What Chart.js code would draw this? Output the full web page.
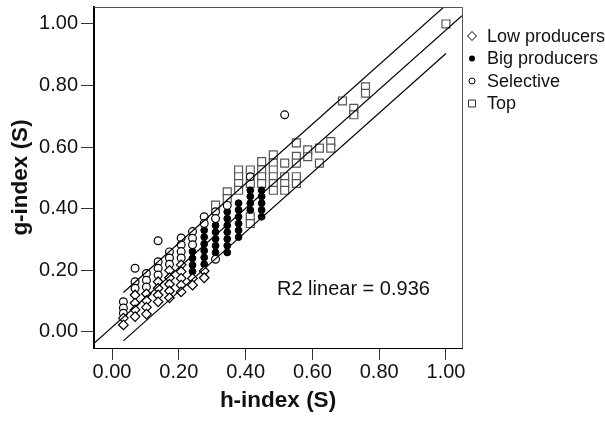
<!DOCTYPE html>
<html>
<head>
<meta charset="utf-8">
<script src="https://cdn.jsdelivr.net/npm/chart.js@4.4.0/dist/chart.umd.min.js"></script>
<style>
html, body { margin: 0; padding: 0; background: #fff; }
</style>
</head>
<body>
<canvas id="myChart" width="605" height="423"></canvas>
<script>
// tick values on both axes
var xTicks = [0, 0.2, 0.4, 0.6, 0.8, 1.0];
var yTicks = [0, 0.2, 0.4, 0.6, 0.8, 1.0];

// [h-index, g-index] pairs
var lowProducers = [
  [0.034, 0.045], [0.034, 0.023],
  [0.069, 0.120], [0.069, 0.094], [0.069, 0.072], [0.069, 0.050],
  [0.103, 0.124], [0.103, 0.102], [0.103, 0.080], [0.103, 0.058],
  [0.138, 0.163], [0.138, 0.142], [0.138, 0.120], [0.138, 0.098],
  [0.172, 0.200], [0.172, 0.176], [0.172, 0.155], [0.172, 0.133], [0.172, 0.111],
  [0.207, 0.218], [0.207, 0.196], [0.207, 0.174], [0.207, 0.152], [0.207, 0.130],
  [0.241, 0.174], [0.241, 0.152],
  [0.276, 0.198], [0.276, 0.176]
];
var bigProducers = [
  [0.241, 0.261], [0.241, 0.239], [0.241, 0.217], [0.241, 0.196],
  [0.276, 0.330], [0.276, 0.308], [0.276, 0.286], [0.276, 0.264], [0.276, 0.242], [0.276, 0.220],
  [0.310, 0.346], [0.310, 0.324], [0.310, 0.302], [0.310, 0.280], [0.310, 0.258],
  [0.345, 0.390], [0.345, 0.368], [0.345, 0.346], [0.345, 0.324], [0.345, 0.302], [0.345, 0.280], [0.345, 0.258],
  [0.379, 0.418], [0.379, 0.396], [0.379, 0.374], [0.379, 0.352], [0.379, 0.330], [0.379, 0.308],
  [0.414, 0.460], [0.414, 0.440], [0.414, 0.418], [0.414, 0.396],
  [0.448, 0.460], [0.448, 0.440], [0.448, 0.418], [0.448, 0.396], [0.448, 0.374]
];
var selective = [
  [0.034, 0.098], [0.034, 0.078], [0.034, 0.061],
  [0.069, 0.207], [0.069, 0.163], [0.069, 0.142],
  [0.103, 0.190], [0.103, 0.168], [0.103, 0.146],
  [0.138, 0.296], [0.138, 0.228], [0.138, 0.207], [0.138, 0.185],
  [0.172, 0.260], [0.172, 0.240], [0.172, 0.220],
  [0.207, 0.305], [0.207, 0.283], [0.207, 0.261], [0.207, 0.240],
  [0.241, 0.326], [0.241, 0.304], [0.241, 0.283],
  [0.276, 0.374], [0.276, 0.352],
  [0.310, 0.390], [0.310, 0.368], [0.310, 0.236],
  [0.345, 0.411],
  [0.414, 0.504],
  [0.517, 0.705]
];
var topGroup = [
  [0.310, 0.412],
  [0.345, 0.455], [0.345, 0.433],
  [0.379, 0.526], [0.379, 0.504], [0.379, 0.482], [0.379, 0.460],
  [0.414, 0.526], [0.414, 0.482], [0.414, 0.374], [0.414, 0.352],
  [0.448, 0.553], [0.448, 0.526], [0.448, 0.504], [0.448, 0.482],
  [0.483, 0.575], [0.483, 0.548], [0.483, 0.526], [0.483, 0.504], [0.483, 0.482], [0.483, 0.460],
  [0.517, 0.548], [0.517, 0.504], [0.517, 0.482], [0.517, 0.460],
  [0.552, 0.614], [0.552, 0.570], [0.552, 0.548], [0.552, 0.504], [0.552, 0.482],
  [0.586, 0.591], [0.586, 0.569],
  [0.621, 0.597], [0.621, 0.548],
  [0.655, 0.618], [0.655, 0.597],
  [0.690, 0.750],
  [0.724, 0.726], [0.724, 0.705],
  [0.759, 0.796], [0.759, 0.775],
  [1.000, 1.000]
];

// fit line and the two interval lines (end points)
var fitLine = [[-0.054, -0.037], [1.048, 1.027]];
var upperLine = [[0.034, 0.128], [1.000, 1.061]];
var lowerLine = [[0.034, -0.029], [1.000, 0.904]];

var r2Text = 'R2 linear = 0.936';
var legendLabels = ['Low producers', 'Big producers', 'Selective', 'Top'];

var fam = '"Liberation Sans", Arial, sans-serif';

function pts(list) {
  return list.map(function (p) { return { x: p[0], y: p[1] }; });
}

function lineSet(list) {
  return {
    type: 'line', data: pts(list), borderColor: '#000', borderWidth: 1.2,
    pointRadius: 0, fill: false, tension: 0, order: 0
  };
}

// legend and R2 text
var extras = {
  id: 'extras',
  afterDraw: function (chart) {
    var ctx = chart.ctx;
    var a = chart.chartArea;
    ctx.save();
    // top and right edges of the frame
    ctx.strokeStyle = '#555';
    ctx.lineWidth = 1;
    ctx.beginPath();
    ctx.moveTo(a.left, a.top + 0.5);
    ctx.lineTo(a.right + 0.5, a.top + 0.5);
    ctx.lineTo(a.right + 0.5, a.bottom);
    ctx.stroke();

    ctx.fillStyle = '#111';
    ctx.font = '20px ' + fam;
    ctx.textBaseline = 'middle';
    ctx.textAlign = 'left';
    ctx.fillText(r2Text, 277, 289);

    var rows = [36, 58.5, 81, 103.5];
    var mx = 472;
    ctx.font = '18px ' + fam;
    for (var i = 0; i < legendLabels.length; i++) {
      var y = rows[i];
      ctx.strokeStyle = '#000';
      ctx.fillStyle = '#fff';
      ctx.lineWidth = 1;
      ctx.beginPath();
      if (i === 0) {
        ctx.moveTo(mx, y - 4.5); ctx.lineTo(mx + 4.5, y); ctx.lineTo(mx, y + 4.5); ctx.lineTo(mx - 4.5, y); ctx.closePath();
        ctx.fill(); ctx.stroke();
      } else if (i === 1) {
        ctx.fillStyle = '#000';
        ctx.arc(mx, y, 3, 0, Math.PI * 2);
        ctx.fill();
      } else if (i === 2) {
        ctx.arc(mx, y, 3, 0, Math.PI * 2);
        ctx.fill(); ctx.stroke();
      } else {
        ctx.strokeStyle = '#333';
        ctx.rect(mx - 3.5, y - 3.5, 7, 7);
        ctx.fill(); ctx.stroke();
      }
      ctx.fillStyle = '#111';
      ctx.fillText(legendLabels[i], 487, y + 1);
    }
    ctx.restore();
  }
};

var ctx = document.getElementById('myChart').getContext('2d');
var myChart = new Chart(ctx, {
  type: 'scatter',
  data: {
    datasets: [
      lineSet(fitLine),
      lineSet(upperLine),
      lineSet(lowerLine),
      {
        label: legendLabels[0], data: pts(lowProducers), pointStyle: 'rectRot',
        pointRadius: 4.8, borderColor: '#000', backgroundColor: '#fff', borderWidth: 1.2, order: 1
      },
      {
        label: legendLabels[2], data: pts(selective), pointStyle: 'circle',
        pointRadius: 3.9, borderColor: '#000', backgroundColor: '#fff', borderWidth: 1.2, order: 1
      },
      {
        label: legendLabels[1], data: pts(bigProducers), pointStyle: 'circle',
        pointRadius: 3.4, borderColor: '#000', backgroundColor: '#000', borderWidth: 1, order: 1
      },
      {
        label: legendLabels[3], data: pts(topGroup), pointStyle: 'rect',
        pointRadius: 5.6, borderColor: '#555', backgroundColor: '#fff', borderWidth: 1.2, order: 1
      }
    ]
  },
  options: {
    responsive: false,
    animation: false,
    devicePixelRatio: 1,
    layout: { padding: { left: 0, right: 143, top: 7, bottom: 0 } },
    plugins: { legend: { display: false }, tooltip: { enabled: false } },
    scales: {
      x: {
        type: 'linear', position: 'bottom', min: -0.054, max: 1.048,
        afterBuildTicks: function (s) { s.ticks = xTicks.map(function (v) { return { value: v }; }); },
        afterFit: function (s) { s.height = 75; s.paddingLeft = 0; s.paddingRight = 0; },
        grid: { drawOnChartArea: false, drawTicks: true, tickLength: 12, color: '#333' },
        border: { display: true, color: '#000', width: 1 },
        ticks: {
          font: { family: fam, size: 20 }, color: '#111', padding: 0, maxRotation: 0,
          callback: function (v) { return v.toFixed(2); }
        },
        title: {
          display: true, text: 'h-index (S)', color: '#111',
          font: { family: fam, size: 22.5, weight: 'bold' }, padding: { top: 0, bottom: 9 }
        }
      },
      y: {
        type: 'linear', position: 'left', min: -0.052, max: 1.055,
        afterBuildTicks: function (s) { s.ticks = yTicks.map(function (v) { return { value: v }; }); },
        afterFit: function (s) { s.width = 94; s.paddingTop = 0; s.paddingBottom = 0; },
        grid: { drawOnChartArea: false, drawTicks: true, tickLength: 13, color: '#333' },
        border: { display: true, color: '#000', width: 2 },
        ticks: {
          font: { family: fam, size: 20 }, color: '#111', padding: 3,
          callback: function (v) { return v.toFixed(2); }
        },
        title: {
          display: true, text: 'g-index (S)', color: '#111',
          font: { family: fam, size: 22.5, weight: 'bold' }, padding: { top: 7, bottom: 0 }
        }
      }
    }
  },
  plugins: [extras]
});
</script>
</body>
</html>
